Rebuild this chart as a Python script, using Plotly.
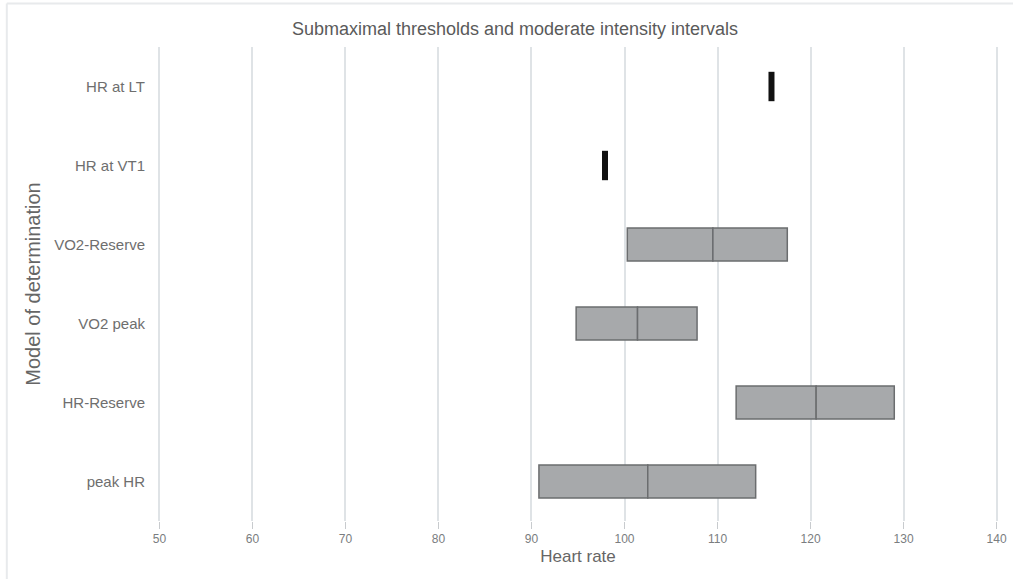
import plotly.graph_objects as go

# Categories, bottom to top on the chart
models = ["peak HR", "HR-Reserve", "VO2 peak", "VO2-Reserve", "HR at VT1", "HR at LT"]

# Moderate-intensity intervals (heart rate): lower bound, midpoint, upper bound
interval_models = ["peak HR", "HR-Reserve", "VO2 peak", "VO2-Reserve"]
interval_low = [90.8, 112.0, 94.8, 100.3]
interval_mid = [102.5, 120.6, 101.4, 109.5]
interval_high = [114.1, 129.0, 107.8, 117.5]

# Single-value thresholds
threshold_models = ["HR at VT1", "HR at LT"]
threshold_hr = [97.9, 115.8]

x_ticks = [50, 60, 70, 80, 90, 100, 110, 120, 130, 140]

fill = "#a7a9ab"
edge = "#6b6d6f"
text_col = "#6e6e6e"
font_family = "Liberation Sans, Arial, sans-serif"

fig = go.Figure()

# lower half of each interval (low -> mid)
fig.add_trace(go.Bar(
    y=interval_models,
    x=[m - l for l, m in zip(interval_low, interval_mid)],
    base=interval_low,
    orientation="h",
    width=0.42,
    marker=dict(color=fill, line=dict(color=edge, width=1.5)),
    showlegend=False,
    hoverinfo="skip",
))
# upper half of each interval (mid -> high)
fig.add_trace(go.Bar(
    y=interval_models,
    x=[h - m for m, h in zip(interval_mid, interval_high)],
    base=interval_mid,
    orientation="h",
    width=0.42,
    marker=dict(color=fill, line=dict(color=edge, width=1.5)),
    showlegend=False,
    hoverinfo="skip",
))

# threshold marks
fig.add_trace(go.Scatter(
    y=threshold_models,
    x=threshold_hr,
    mode="markers",
    marker=dict(symbol="line-ns", size=21, line=dict(color="#111111", width=6)),
    showlegend=False,
    hoverinfo="skip",
))

# thin frame lines along the top and left edge of the figure
fig.add_shape(type="line", xref="paper", yref="paper",
              x0=-0.18, x1=1.03, y0=1.092, y1=1.092,
              line=dict(color="#e8eaec", width=2))
fig.add_shape(type="line", xref="paper", yref="paper",
              x0=-0.18, x1=-0.18, y0=-0.13, y1=1.092,
              line=dict(color="#e8eaec", width=2))

fig.update_layout(
    width=1013,
    height=579,
    margin=dict(l=158, r=15, t=47, b=58),
    paper_bgcolor="white",
    plot_bgcolor="white",
    barmode="overlay",
    font=dict(family=font_family, color=text_col, size=12),
    title=dict(
        text="Submaximal thresholds and moderate intensity intervals",
        x=0.425, xref="paper", xanchor="center",
        y=0.951, yanchor="middle",
        font=dict(size=18, color="#5a5a5a", family=font_family),
    ),
    xaxis=dict(
        range=[49.85, 140.15],
        automargin=False,
        tickvals=x_ticks,
        ticktext=[str(v) for v in x_ticks],
        showgrid=True,
        gridcolor="#dfe3e6",
        gridwidth=2,
        zeroline=False,
        showline=False,
        ticks="outside",
        ticklen=7,
        tickcolor="#c8cbce",
        tickfont=dict(size=12, color="#7a7d80"),
        title=dict(text="Heart rate", font=dict(size=17, color="#666666"), standoff=4),
    ),
    yaxis=dict(
        categoryorder="array",
        categoryarray=models,
        range=[-0.5, 5.5],
        automargin=False,
        showgrid=False,
        zeroline=False,
        showline=False,
        ticks="",
        ticklabelstandoff=12,
        tickfont=dict(size=15, color="#6e6e6e"),
        title=dict(text="Model of determination", font=dict(size=20, color="#666666"), standoff=8),
    ),
)

fig.write_html("out.html")
